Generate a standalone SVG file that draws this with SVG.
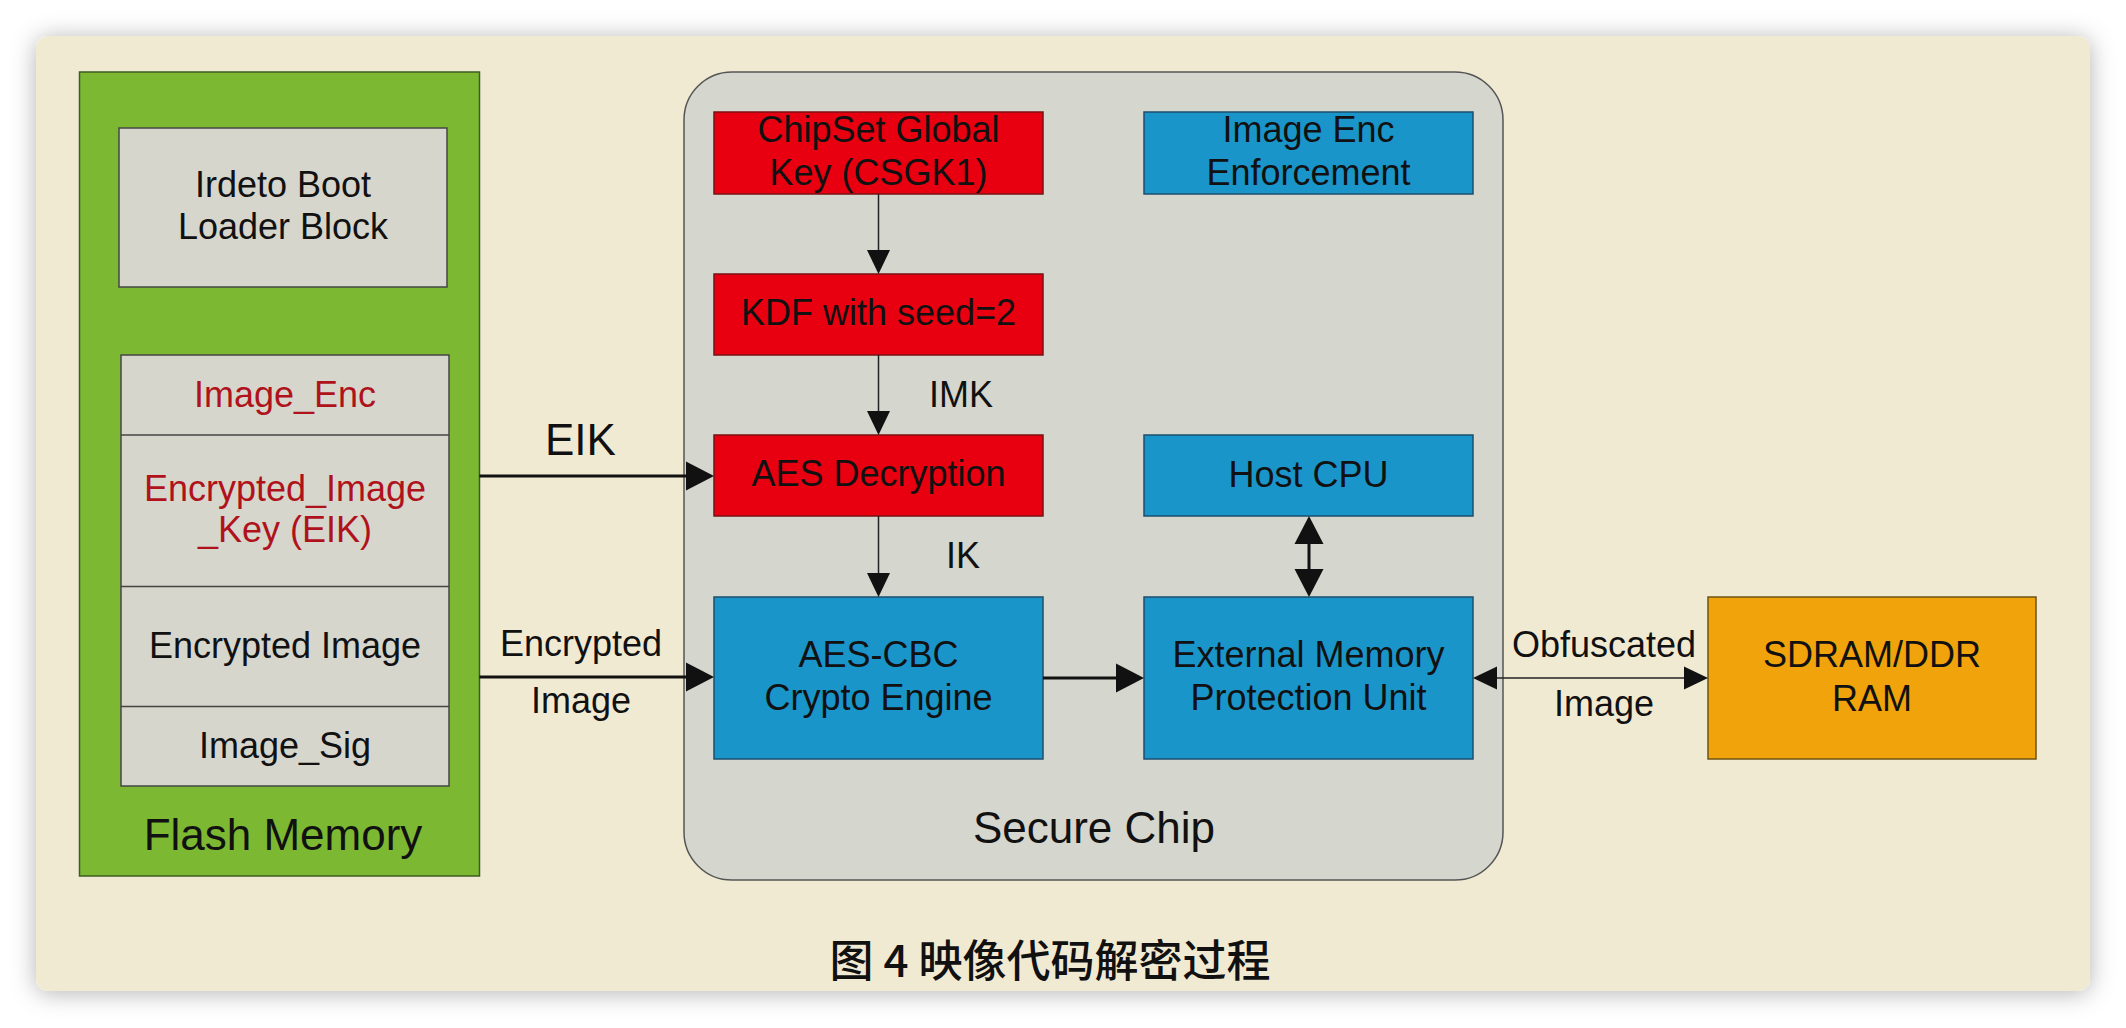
<svg xmlns="http://www.w3.org/2000/svg" width="2126" height="1028" viewBox="0 0 2126 1028">
<style>
.t{font-family:"Liberation Sans",Arial,sans-serif;font-size:36px;fill:#111;text-anchor:middle}
.big{font-size:44px}
.red{fill:#b0121c}
.lt{text-anchor:start}
.gray{fill:#d6d6cc;stroke:#454545;stroke-width:1.5}
.rbox{fill:#e80010;stroke:#7a1212;stroke-width:1.5}
.bbox{fill:#1a95ca;stroke:#1d4f6e;stroke-width:1.5}
.obox{fill:#f0a30b;stroke:#6e5414;stroke-width:1.5}
.thin{stroke:#222;stroke-width:1.5;fill:none}
.thick{stroke:#111;stroke-width:3;fill:none}
.cap{font-family:"Noto Sans CJK SC","Noto Sans CJK TC",sans-serif;font-size:44px;font-weight:500;fill:#111;text-anchor:middle}
</style>
<defs>
<filter id="sh" x="-10%" y="-10%" width="120%" height="120%">
<feDropShadow dx="0" dy="2" stdDeviation="12" flood-color="#000" flood-opacity="0.3"/>
</filter>
<marker id="ah" viewBox="0 -12 24 24" refX="0" refY="0" markerWidth="24" markerHeight="24" markerUnits="userSpaceOnUse" orient="auto-start-reverse">
<path d="M0,-11.5 L24,0 L0,11.5 Z" fill="#111"/>
</marker>
<marker id="ahT" viewBox="0 -15 28 30" refX="0" refY="0" markerWidth="28" markerHeight="30" markerUnits="userSpaceOnUse" orient="auto-start-reverse">
<path d="M0,-14.5 L28,0 L0,14.5 Z" fill="#111"/>
</marker>
</defs>
<rect x="0" y="0" width="2126" height="1028" fill="#ffffff"/>
<rect x="36" y="36" width="2054" height="955" rx="12" fill="#f1ead3" filter="url(#sh)"/>

<g id="flash-memory">
<rect x="79.5" y="72" width="400" height="804" fill="#7cb832" stroke="#3f5c22" stroke-width="1.5"/>
<text class="t big" x="283" y="850">Flash Memory</text>
</g>
<g id="irdeto-boot-loader">
<rect class="gray" x="119" y="128" width="328" height="159"/>
<text class="t" x="283" y="197">Irdeto Boot</text>
<text class="t" x="283" y="239">Loader Block</text>
</g>
<g id="image-stack">
<rect class="gray" x="121" y="355" width="328" height="431"/>
<line x1="121" y1="435" x2="449" y2="435" stroke="#454545" stroke-width="1.5"/>
<line x1="121" y1="586.5" x2="449" y2="586.5" stroke="#454545" stroke-width="1.5"/>
<line x1="121" y1="706.5" x2="449" y2="706.5" stroke="#454545" stroke-width="1.5"/>
<text class="t red" x="285" y="407">Image_Enc</text>
<text class="t red" x="285" y="501">Encrypted_Image</text>
<text class="t red" x="285" y="542">_Key (EIK)</text>
<text class="t" x="285" y="658">Encrypted Image</text>
<text class="t" x="285" y="758">Image_Sig</text>
</g>

<g id="secure-chip">
<rect x="684" y="72" width="819" height="808" rx="48" fill="#d5d6cd" stroke="#555" stroke-width="1.5"/>
<text class="t big" x="1094" y="843">Secure Chip</text>
</g>
<g id="csgk1">
<rect class="rbox" x="714" y="112" width="329" height="82"/>
<text class="t" x="878.5" y="142">ChipSet Global</text>
<text class="t" x="878.5" y="185">Key (CSGK1)</text>
</g>
<g id="image-enc-enforcement">
<rect class="bbox" x="1144" y="112" width="329" height="82"/>
<text class="t" x="1308.5" y="142">Image Enc</text>
<text class="t" x="1308.5" y="185">Enforcement</text>
</g>
<g id="kdf">
<rect class="rbox" x="714" y="274" width="329" height="81"/>
<text class="t" x="878.5" y="325">KDF with seed=2</text>
</g>
<g id="aes-decryption">
<rect class="rbox" x="714" y="435" width="329" height="81"/>
<text class="t" x="878.5" y="486">AES Decryption</text>
</g>
<g id="host-cpu">
<rect class="bbox" x="1144" y="435" width="329" height="81"/>
<text class="t" x="1308.5" y="487">Host CPU</text>
</g>
<g id="aes-cbc">
<rect class="bbox" x="714" y="597" width="329" height="162"/>
<text class="t" x="878.5" y="667">AES-CBC</text>
<text class="t" x="878.5" y="710">Crypto Engine</text>
</g>
<g id="empu">
<rect class="bbox" x="1144" y="597" width="329" height="162"/>
<text class="t" x="1308.5" y="667">External Memory</text>
<text class="t" x="1308.5" y="710">Protection Unit</text>
</g>
<g id="sdram">
<rect class="obox" x="1708" y="597" width="328" height="162"/>
<text class="t" x="1872" y="667">SDRAM/DDR</text>
<text class="t" x="1872" y="711">RAM</text>
</g>

<g id="connectors">
<line class="thin" x1="878.5" y1="194" x2="878.5" y2="250" marker-end="url(#ah)"/>
<line class="thin" x1="878.5" y1="355" x2="878.5" y2="411" marker-end="url(#ah)"/>
<text class="t lt" x="929" y="407">IMK</text>
<line class="thin" x1="878.5" y1="516" x2="878.5" y2="573" marker-end="url(#ah)"/>
<text class="t lt" x="946" y="568">IK</text>
<line class="thick" x1="479.5" y1="476" x2="686" y2="476" marker-end="url(#ahT)"/>
<text class="t big lt" x="545" y="455">EIK</text>
<line class="thick" x1="479.5" y1="677" x2="686" y2="677" marker-end="url(#ahT)"/>
<text class="t" x="581" y="656">Encrypted</text>
<text class="t" x="581" y="713">Image</text>
<line class="thick" x1="1043" y1="678" x2="1116" y2="678" marker-end="url(#ahT)"/>
<line class="thick" x1="1309" y1="544" x2="1309" y2="569" marker-start="url(#ahT)" marker-end="url(#ahT)"/>
<line class="thin" x1="1497" y1="678" x2="1684" y2="678" marker-start="url(#ah)" marker-end="url(#ah)"/>
<text class="t" x="1604" y="657">Obfuscated</text>
<text class="t" x="1604" y="716">Image</text>
</g>

<text class="cap" x="1050" y="977">图 4 映像代码解密过程</text>
</svg>
